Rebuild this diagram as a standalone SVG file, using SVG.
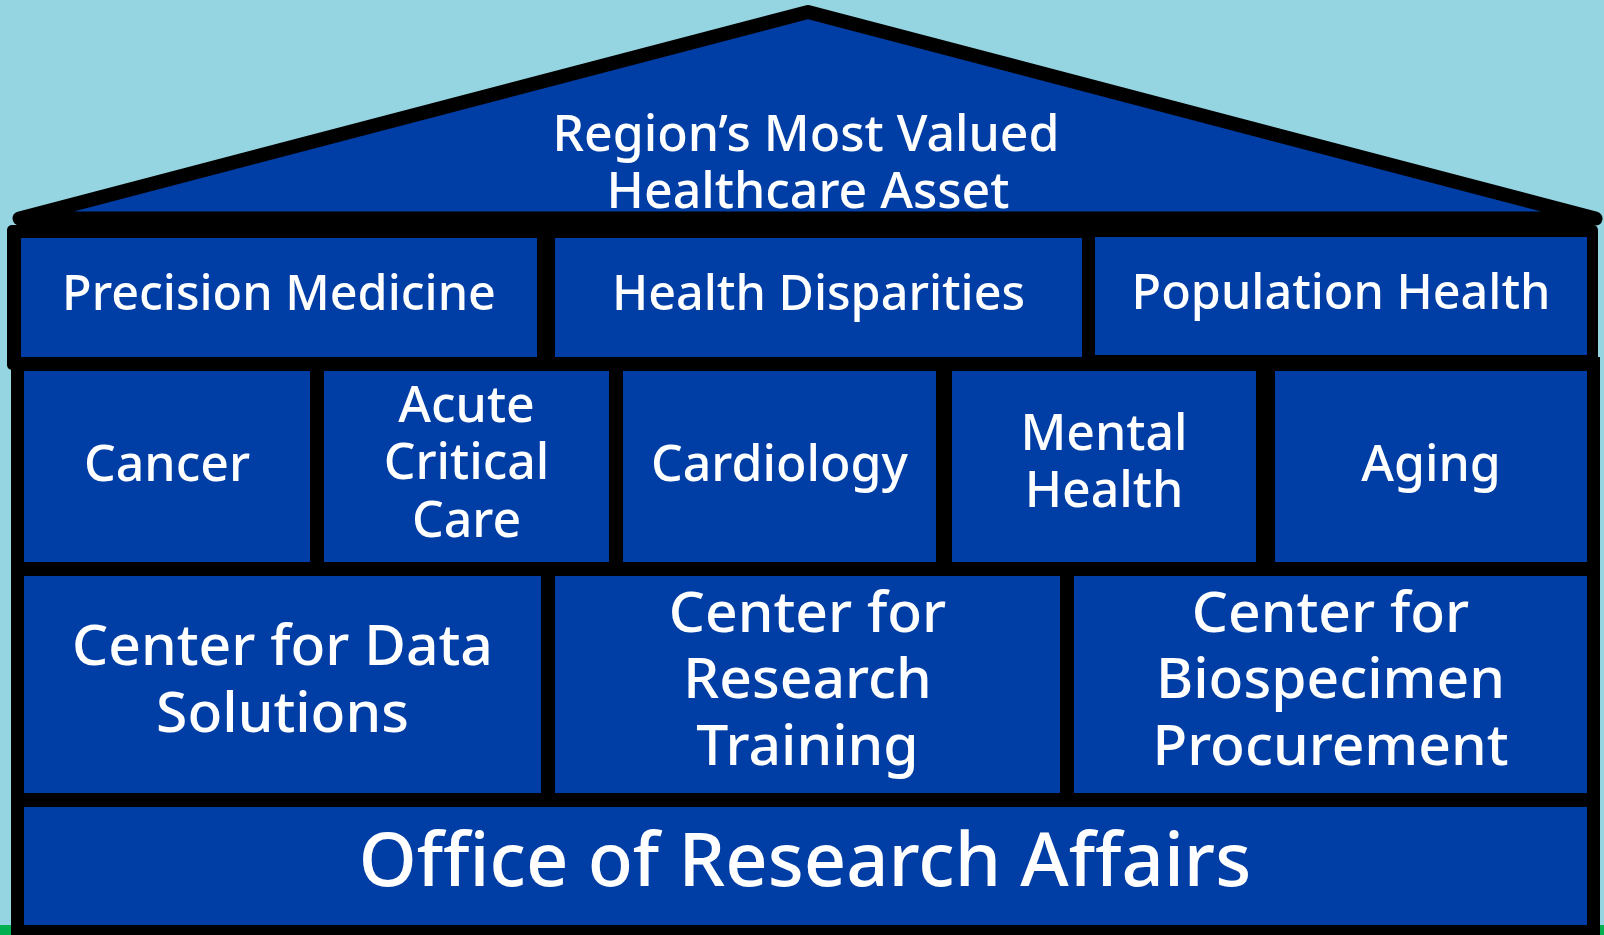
<svg xmlns="http://www.w3.org/2000/svg" width="1604" height="935" viewBox="0 0 1604 935">
<style>
.box{fill:#003DA5}
.t{fill:#FFFFFF;font-family:"Noto Sans","Open Sans","DejaVu Sans",sans-serif;text-anchor:middle;font-weight:500}
.s48{font-size:48.5px}
.s50{font-size:50px}
.s51{font-size:50px}
.s58{font-size:57px}
.s76{font-size:74px}
</style>
<rect x="0" y="0" width="1604" height="935" fill="#95D5E1"/>
<rect x="0" y="925" width="1604" height="10" fill="#00B050"/>
<g id="roof">
<polygon points="19.5,218.5 808,12 1595.5,218.5" fill="#003DA5" stroke="#000000" stroke-width="14" stroke-linejoin="round"/>
<text class="t s50" x="806" y="151">Region’s Most Valued</text>
<text class="t s50" x="808" y="208">Healthcare Asset</text>
</g>
<g id="body-frame">
<rect x="11" y="357" width="1589" height="578" fill="#000000"/>
</g>
<g id="top-frame">
<rect x="7" y="225" width="1591" height="145" rx="5" fill="#000000"/>
</g>
<g id="precision-medicine">
<rect class="box" x="21" y="238" width="516" height="119"/>
<text class="t s48" x="279" y="310">Precision Medicine</text>
</g>
<g id="health-disparities">
<rect class="box" x="555" y="238" width="527" height="119"/>
<text class="t s48" x="818.5" y="310">Health Disparities</text>
</g>
<g id="population-health">
<rect class="box" x="1095" y="237" width="492" height="118"/>
<text class="t s48" x="1341" y="309">Population Health</text>
</g>
<g id="cancer">
<rect class="box" x="24" y="371" width="286" height="191"/>
<text class="t s51" x="167" y="481">Cancer</text>
</g>
<g id="acute-critical-care">
<rect class="box" x="324" y="371" width="285" height="191"/>
<text class="t s51" x="466.5" y="422">Acute</text>
<text class="t s51" x="466.5" y="479">Critical</text>
<text class="t s51" x="466.5" y="537">Care</text>
</g>
<g id="cardiology">
<rect class="box" x="623" y="371" width="313" height="191"/>
<text class="t s51" x="779.5" y="481">Cardiology</text>
</g>
<g id="mental-health">
<rect class="box" x="952" y="371" width="304" height="191"/>
<text class="t s51" x="1104" y="450">Mental</text>
<text class="t s51" x="1104" y="507">Health</text>
</g>
<g id="aging">
<rect class="box" x="1275" y="371" width="312" height="191"/>
<text class="t s51" x="1431" y="481">Aging</text>
</g>
<g id="data-solutions">
<rect class="box" x="24" y="576" width="517" height="217"/>
<text class="t s58" x="282.5" y="665">Center for Data</text>
<text class="t s58" x="282.5" y="732">Solutions</text>
</g>
<g id="research-training">
<rect class="box" x="555" y="576" width="505" height="217"/>
<text class="t s58" x="807.5" y="632">Center for</text>
<text class="t s58" x="807.5" y="698">Research</text>
<text class="t s58" x="807.5" y="765">Training</text>
</g>
<g id="biospecimen-procurement">
<rect class="box" x="1074" y="576" width="513" height="217"/>
<text class="t s58" x="1330.5" y="632">Center for</text>
<text class="t s58" x="1330.5" y="698">Biospecimen</text>
<text class="t s58" x="1330.5" y="765">Procurement</text>
</g>
<g id="office-research-affairs">
<rect class="box" x="24" y="807" width="1563" height="118"/>
<text class="t s76" x="805" y="886">Office of Research Affairs</text>
</g>
<g id="connectors"></g>
</svg>
